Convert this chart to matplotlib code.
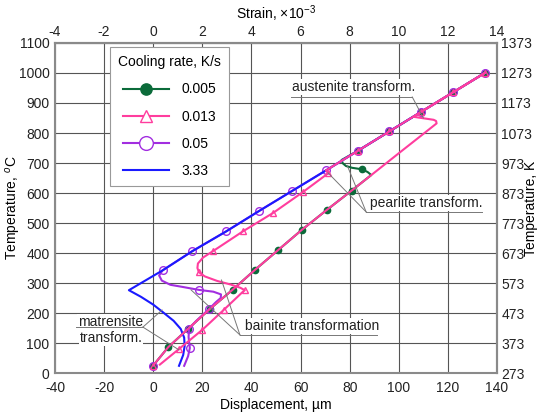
import matplotlib
matplotlib.use('Agg')
import matplotlib.pyplot as plt
from matplotlib.lines import Line2D

plt.rcParams['font.family'] = ['Liberation Sans', 'DejaVu Sans']
plt.rcParams['mathtext.fontset'] = 'custom'
plt.rcParams['mathtext.rm'] = 'Liberation Sans'
plt.rcParams['mathtext.it'] = 'Liberation Sans:italic'
plt.rcParams['axes.unicode_minus'] = False

# heating path (ferrite line, austenite transformation, austenite line)
heat_d = [0, 6.1, 14.3, 23, 32.4, 41.6, 50.9, 60.5, 70.6, 80.8, 91, 101, 110, 115.4, 115.2, 114.2, 106, 109, 122, 135]
heat_T = [25, 86, 148, 213, 278, 345, 410, 477, 543, 608, 674, 739, 797, 832, 840, 844, 854, 870, 935, 1000]

# cooling 0.005 K/s (pearlite)
green_d = [135, 122, 109, 96.1, 83.2, 76.7, 77.2, 78.5, 81, 85, 87.3, 88.8, 80.8, 70.6, 60.5, 50.9, 41.6, 32.4, 23, 14.3, 6.1, 0]
green_T = [1000, 935, 870, 805, 740, 710, 699, 690, 684, 679, 670, 660, 608, 543, 477, 410, 345, 278, 213, 148, 86, 25]
green_md = [135, 122, 109, 96.1, 83.2, 85, 80.8, 70.6, 60.5, 50.9, 41.6, 32.4, 23, 14.3, 6.1, 0]
green_mT = [1000, 935, 870, 805, 740, 679, 608, 543, 477, 410, 345, 278, 213, 148, 86, 25]

# cooling 0.013 K/s (pearlite + bainite)
pink_d = [135, 122, 109, 96.1, 83.2, 70.3, 71.3, 61.1, 48.9, 36.5, 24.3, 20.3, 18.2, 18, 18.6, 21, 26, 31.5, 35.5, 37.3, 36.4, 28.8, 20, 10.5, 2.7]
pink_T = [1000, 935, 870, 805, 740, 675, 666, 604, 534, 472, 406, 385, 365, 350, 336, 322, 307, 295, 284, 276, 270, 211, 144, 80, 28]
pink_md = [135, 122, 109, 96.1, 83.2, 71.3, 61.1, 48.9, 36.5, 24.3, 18.6, 37.3, 28.8, 20, 10.5, 0]
pink_mT = [1000, 935, 870, 805, 740, 666, 604, 534, 472, 406, 336, 276, 211, 144, 80, 25]

# cooling 0.05 K/s (bainite + martensite)
purple_d = [135, 122, 109, 96.1, 83.2, 70.3, 56.4, 43.1, 29.7, 15.9, 3.8, 2.4, 3.5, 7, 11.9, 18.6, 24.5, 27.6, 27.5, 25.5, 22.7, 17.3, 14.6, 14.4, 14.9, 14.2, 12.6]
purple_T = [1000, 935, 870, 805, 740, 675, 606, 540, 472, 406, 342, 325, 308, 294, 287, 277, 271, 262, 250, 236, 213, 172, 148, 120, 83, 56, 24]
purple_md = [135, 122, 109, 96.1, 83.2, 70.3, 56.4, 43.1, 29.7, 15.9, 3.8, 18.6, 22.7, 14.6, 14.9, 0]
purple_mT = [1000, 935, 870, 805, 740, 675, 606, 540, 472, 406, 342, 277, 213, 148, 83, 25]

# cooling 3.33 K/s (martensite)
blue_d = [135, 122, 109, 96.1, 83.2, 70.3, 56.4, 43.1, 29.7, 15.9, 3.8, -9.9, -5.0, 0, 4.2, 8.3, 11.2, 12.6, 12.8, 12.2, 10.5]
blue_T = [1000, 935, 870, 805, 740, 675, 606, 540, 472, 406, 342, 276, 254, 228, 201, 174, 147, 118, 90, 60, 24]

rates = ['0.005', '0.013', '0.05', '3.33']
c_green, c_pink, c_purple, c_blue = '#0b6b3a', '#ff3d9e', '#a22ee0', '#1a1aff'
lw = 1.5
ms = 4.5

fig = plt.figure(figsize=(5.46, 4.19), dpi=100)
ax = fig.add_axes([55/546, 1-373/419, 442/546, 330/419])

ax.plot(green_d, green_T, color=c_green, lw=lw, zorder=2)
ax.plot(green_md, green_mT, 'o', color=c_green, ms=ms, zorder=2)
ax.plot(purple_d, purple_T, color=c_purple, lw=lw, zorder=3)
ax.plot(purple_md, purple_mT, 'o', mfc='none', mec=c_purple, ms=ms+1, mew=1, zorder=3)
ax.plot(blue_d, blue_T, color=c_blue, lw=lw, zorder=4)
ax.plot(heat_d, heat_T, color=c_pink, lw=lw, zorder=5)
ax.plot(pink_d, pink_T, color=c_pink, lw=lw, zorder=5)
ax.plot(pink_md, pink_mT, '^', mfc='none', mec=c_pink, ms=ms+0.5, mew=1, zorder=5)

ax.set_xlim(-40, 140)
ax.set_ylim(0, 1100)
ax.set_xticks(range(-40, 141, 20))
ax.set_yticks(range(0, 1101, 100))
ax.grid(True, color='#555555', lw=0.8)
ax.set_axisbelow(True)
ax.tick_params(length=0, labelsize=10, pad=4, colors='#222222')
ax.tick_params(axis='x', pad=6)
for s in ax.spines.values():
    s.set_color('#8a8a8a')
    s.set_linewidth(1.5)
ax.set_xlabel('Displacement, µm', fontsize=10, labelpad=2)
ax.set_ylabel('Temperature, $^o$C', fontsize=10)
ax.yaxis.set_label_coords(-0.072, 0.5)

top = ax.secondary_xaxis('top', functions=(lambda d: d / 10, lambda s: s * 10))
top.set_xticks(range(-4, 15, 2))
top.tick_params(length=0, labelsize=10, pad=3, colors='#222222')
top.set_xlabel('Strain, $\\times$10$^{-3}$', fontsize=10, labelpad=4)
right = ax.secondary_yaxis('right', functions=(lambda t: t + 273, lambda k: k - 273))
right.set_yticks(range(273, 1374, 100))
right.tick_params(length=0, labelsize=10, pad=3, colors='#222222')
right.set_ylabel('Temperature, K', fontsize=10)
right.yaxis.set_label_coords(1.061, 0.5, transform=ax.transAxes)
for sec in (top, right):
    for s in sec.spines.values():
        s.set_color('#8a8a8a')
        s.set_linewidth(1.5)

handles = [
    Line2D([], [], color=c_green, lw=lw, marker='o', ms=ms),
    Line2D([], [], color=c_pink, lw=lw, marker='^', mfc='white', mec=c_pink, ms=ms + 0.5, mew=1),
    Line2D([], [], color=c_purple, lw=lw, marker='o', mfc='white', mec=c_purple, ms=ms + 1, mew=1),
    Line2D([], [], color=c_blue, lw=lw),
]
leg = ax.legend(handles, rates, title='Cooling rate, K/s', loc='upper left',
                bbox_to_anchor=(0.124, 0.988), borderaxespad=0, fancybox=False,
                framealpha=1, edgecolor='#999999', fontsize=10, title_fontsize=10,
                handlelength=3.3, handletextpad=0.9, labelspacing=0.95,
                markerscale=1.8, borderpad=0.6)
leg.get_frame().set_linewidth(0.8)
leg.set_zorder(10)

lc = '#777777'
tb = dict(facecolor='white', edgecolor='none', pad=0.5)

def note(tx, ty, text, line_x, line_y, targets):
    ax.text(tx, ty, text, fontsize=10, color='#222222', va='center', ha='left', bbox=tb, zorder=6)
    ax.plot(line_x, line_y, color=lc, lw=0.7, zorder=6)
    for x, y in targets:
        ax.plot([line_x[0], x], [line_y[0], y], color=lc, lw=0.7, zorder=6)

note(56.5, 953, 'austenite transform.', [105.5, 56], [920, 920], [(110, 850)])
note(88.3, 567, 'pearlite transform.', [86.7, 134], [537, 537], [(71.2, 667), (79, 692)])
note(37.4, 157, 'bainite transformation', [35.3, 91.1], [127, 127], [(27.8, 310), (15.4, 277)])
note(-30.6, 170, 'matrensite', [-4.2, -31.5], [153, 153], [(3.6, 210), (10.5, 77)])
ax.text(-30, 117, 'transform.', fontsize=10, color='#222222', va='center', ha='left', bbox=tb, zorder=6)

fig.savefig('out.png', dpi=100)
